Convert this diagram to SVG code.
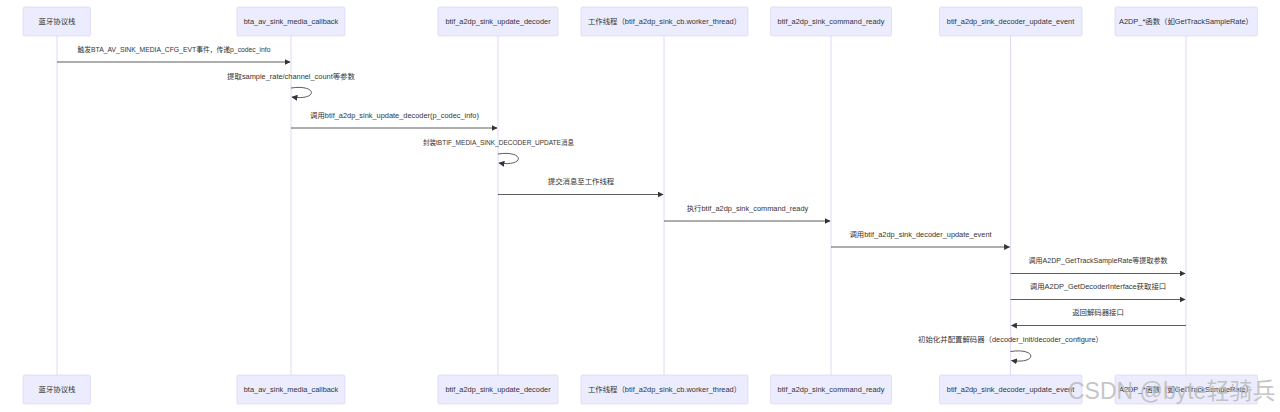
<svg xmlns="http://www.w3.org/2000/svg" width="1280" height="412" viewBox="0 0 1280 412">
<defs>
<style>
.actor{fill:#ECECFF;stroke:#DACEF3;stroke-width:0.6}
.life{stroke:#DACEF3;stroke-width:0.8;fill:none}
.at{font-family:"Liberation Sans","Noto Sans CJK SC",sans-serif;font-size:7.4px;fill:#333;text-anchor:middle;dominant-baseline:central}
.msg{stroke:#333;stroke-width:0.8;fill:none}
.mt{font-family:"Liberation Sans","Noto Sans CJK SC",sans-serif;font-size:7.4px;fill:#333;text-anchor:middle;dominant-baseline:central}
.wm{font-family:"Liberation Sans","Noto Sans CJK SC",sans-serif;font-size:23px;fill:#bbbbbb;fill-opacity:0.85}
</style>
<marker id="ah" viewBox="0 0 10 10" refX="9" refY="5" markerWidth="6" markerHeight="6" orient="auto-start-reverse" markerUnits="userSpaceOnUse">
<path d="M0,0 L10,5 L0,10 z" fill="#333"/>
</marker>
</defs>
<rect width="1280" height="412" fill="#fff"/>

<g id="lifelines">
<line class="life" x1="57" y1="36" x2="57" y2="375"/>
<line class="life" x1="291" y1="36" x2="291" y2="375"/>
<line class="life" x1="498" y1="36" x2="498" y2="375"/>
<line class="life" x1="664" y1="36" x2="664" y2="375"/>
<line class="life" x1="831" y1="36" x2="831" y2="375"/>
<line class="life" x1="1010.5" y1="36" x2="1010.5" y2="375"/>
<line class="life" x1="1186" y1="36" x2="1186" y2="375"/>
</g>

<g id="actor-stack">
<rect class="actor" x="23" y="7" width="67.5" height="29" rx="1.5"/><text class="at" x="57" y="21.5">蓝牙协议栈</text>
<rect class="actor" x="23" y="375" width="67.5" height="29" rx="1.5"/><text class="at" x="57" y="389.5">蓝牙协议栈</text>
</g>
<g id="actor-callback">
<rect class="actor" x="237" y="7" width="108" height="29" rx="1.5"/><text class="at" x="291" y="21.5">bta_av_sink_media_callback</text>
<rect class="actor" x="237" y="375" width="108" height="29" rx="1.5"/><text class="at" x="291" y="389.5">bta_av_sink_media_callback</text>
</g>
<g id="actor-update-decoder">
<rect class="actor" x="438" y="7" width="120" height="29" rx="1.5"/><text class="at" x="498" y="21.5">btif_a2dp_sink_update_decoder</text>
<rect class="actor" x="438" y="375" width="120" height="29" rx="1.5"/><text class="at" x="498" y="389.5">btif_a2dp_sink_update_decoder</text>
</g>
<g id="actor-worker">
<rect class="actor" x="581" y="7" width="167" height="29" rx="1.5"/><text class="at" x="664.5" y="21.5">工作线程（btif_a2dp_sink_cb.worker_thread）</text>
<rect class="actor" x="581" y="375" width="167" height="29" rx="1.5"/><text class="at" x="664.5" y="389.5">工作线程（btif_a2dp_sink_cb.worker_thread）</text>
</g>
<g id="actor-command-ready">
<rect class="actor" x="770.5" y="7" width="121" height="29" rx="1.5"/><text class="at" x="831" y="21.5">btif_a2dp_sink_command_ready</text>
<rect class="actor" x="770.5" y="375" width="121" height="29" rx="1.5"/><text class="at" x="831" y="389.5">btif_a2dp_sink_command_ready</text>
</g>
<g id="actor-decoder-update-event">
<rect class="actor" x="939.5" y="7" width="142.5" height="29" rx="1.5"/><text class="at" x="1010.5" y="21.5">btif_a2dp_sink_decoder_update_event</text>
<rect class="actor" x="939.5" y="375" width="142.5" height="29" rx="1.5"/><text class="at" x="1010.5" y="389.5">btif_a2dp_sink_decoder_update_event</text>
</g>
<g id="actor-a2dp">
<rect class="actor" x="1115" y="7" width="142.5" height="29" rx="1.5"/><text class="at" x="1186" y="21.5">A2DP_*函数（如GetTrackSampleRate）</text>
<rect class="actor" x="1115" y="375" width="142.5" height="29" rx="1.5"/><text class="at" x="1186" y="389.5">A2DP_*函数（如GetTrackSampleRate）</text>
</g>

<g id="connectors">
<text class="mt" x="174" y="49.5" textLength="193" lengthAdjust="spacingAndGlyphs">触发BTA_AV_SINK_MEDIA_CFG_EVT事件，传递p_codec_info</text>
<line class="msg" x1="57" y1="62" x2="290" y2="62" marker-end="url(#ah)"/>

<text class="mt" x="291" y="76">提取sample_rate/channel_count等参数</text>
<path class="msg" d="M291,88 C318,84 318,101 292,97" marker-end="url(#ah)"/>

<text class="mt" x="394.5" y="115.5">调用btif_a2dp_sink_update_decoder(p_codec_info)</text>
<line class="msg" x1="291" y1="128" x2="497" y2="128" marker-end="url(#ah)"/>

<text class="mt" x="498.5" y="142" textLength="151" lengthAdjust="spacingAndGlyphs">封装tBTIF_MEDIA_SINK_DECODER_UPDATE消息</text>
<path class="msg" d="M498,154 C525,150 525,167 499,163" marker-end="url(#ah)"/>

<text class="mt" x="581" y="181.5">提交消息至工作线程</text>
<line class="msg" x1="498" y1="194.5" x2="663" y2="194.5" marker-end="url(#ah)"/>

<text class="mt" x="747.5" y="208">执行btif_a2dp_sink_command_ready</text>
<line class="msg" x1="664" y1="221" x2="830" y2="221" marker-end="url(#ah)"/>

<text class="mt" x="920.5" y="234.5">调用btif_a2dp_sink_decoder_update_event</text>
<line class="msg" x1="831" y1="247" x2="1009.5" y2="247" marker-end="url(#ah)"/>

<text class="mt" x="1098" y="260.5" textLength="139" lengthAdjust="spacingAndGlyphs">调用A2DP_GetTrackSampleRate等提取参数</text>
<line class="msg" x1="1010.5" y1="273.5" x2="1185" y2="273.5" marker-end="url(#ah)"/>

<text class="mt" x="1098" y="286.5">调用A2DP_GetDecoderInterface获取接口</text>
<line class="msg" x1="1010.5" y1="299.5" x2="1185" y2="299.5" marker-end="url(#ah)"/>

<text class="mt" x="1098" y="312.5">返回解码器接口</text>
<line class="msg" x1="1186" y1="325.5" x2="1011.5" y2="325.5" marker-end="url(#ah)"/>

<text class="mt" x="1010.5" y="339.5">初始化并配置解码器（decoder_init/decoder_configure）</text>
<path class="msg" d="M1010.5,351.5 C1037.5,347.5 1037.5,364.5 1011.5,360.5" marker-end="url(#ah)"/>
</g>

<text class="wm" x="1068" y="399">CSDN @byte轻骑兵</text>
</svg>
